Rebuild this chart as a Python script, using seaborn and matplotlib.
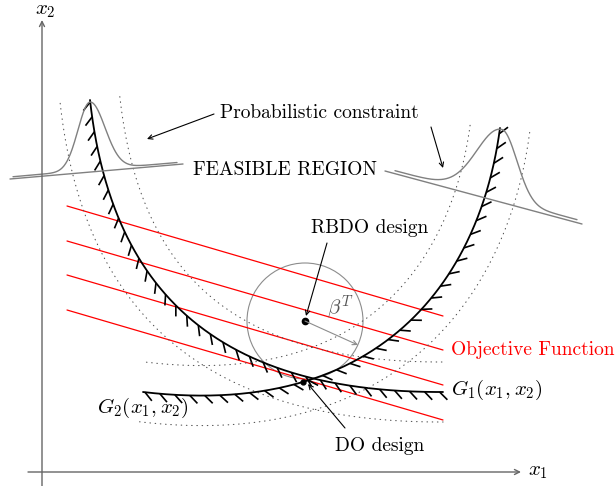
import numpy as np
import matplotlib
matplotlib.use("Agg")
import matplotlib.pyplot as plt
from matplotlib.patches import Circle
from matplotlib.collections import LineCollection
import seaborn as sns

W, H = 616, 486

# limit state curves as cubic Bezier control points (picture coords, y down)
G1_CTRL = [[90, 100], [110, 280], [205, 393], [443, 392]]
G2_CTRL = [[143, 392], [380, 420], [480, 280], [500, 128]]
BAND = 30            # distance of the dotted curves
HATCH_STEP = 15
HATCH_LEN = 11

# objective function contours
OBJ_X = [67, 443]
OBJ_Y0 = [206, 241, 275, 310]
OBJ_Y1 = [316, 350, 385, 420]

# pdf sketches on tilted baselines
LEFT_BASE = [10, 179, 183, 164]
LEFT_SPAN = [13, 177]
LEFT_PEAK, LEFT_HEIGHT, LEFT_SIG = 90, 68, [12, 15]
RIGHT_BASE = [385, 171, 582, 224]
RIGHT_SPAN = [395, 577]
RIGHT_PEAK, RIGHT_HEIGHT, RIGHT_SIG = 502, 70, [25, 15]

RBDO_PT = [305, 321]
DO_PT = [303, 382]
RADIUS = 58
BETA_END = [358, 345]


def bezier(ctrl, n=300):
    p = np.array(ctrl, dtype=float)
    t = np.linspace(0, 1, n)[:, None]
    return ((1 - t) ** 3) * p[0] + 3 * (1 - t) ** 2 * t * p[1] + 3 * (1 - t) * t ** 2 * p[2] + t ** 3 * p[3]


def tangents(c):
    d = np.gradient(c, axis=0)
    return d / np.linalg.norm(d, axis=1)[:, None]


def hatches(c):
    seg = np.linalg.norm(np.diff(c, axis=0), axis=1)
    s = np.concatenate([[0], np.cumsum(seg)])
    tg = tangents(c)
    pos = np.arange(2, s[-1], HATCH_STEP)
    xs, ys = np.interp(pos, s, c[:, 0]), np.interp(pos, s, c[:, 1])
    tx, ty = np.interp(pos, s, tg[:, 0]), np.interp(pos, s, tg[:, 1])
    a = np.deg2rad(45)
    dx = tx * np.cos(a) - ty * np.sin(a)
    dy = tx * np.sin(a) + ty * np.cos(a)
    return [[(x, y), (x + HATCH_LEN * u, y + HATCH_LEN * v)] for x, y, u, v in zip(xs, ys, dx, dy)]


def pdf_curve(base, span, peak, height, sig, lift):
    x = np.linspace(span[0], span[1], 300)
    line = base[1] + (base[3] - base[1]) * (x - base[0]) / (base[2] - base[0])
    s = np.where(x < peak, sig[0], sig[1])
    return x, line - lift - height * np.exp(-(x - peak) ** 2 / (2 * s ** 2))


sns.set_theme(style="white")
plt.rcParams["font.family"] = ["cmr10", "DejaVu Serif"]
plt.rcParams["mathtext.fontset"] = "cm"
plt.rcParams["axes.unicode_minus"] = False
plt.rcParams["text.color"] = "black"

fig = plt.figure(figsize=(W / 100, H / 100), dpi=100)
ax = fig.add_axes([0, 0, 1, 1])

line_kw = dict(sort=False, estimator=None, ax=ax, legend=False)

# objective contours
for y0, y1 in zip(OBJ_Y0, OBJ_Y1):
    sns.lineplot(x=OBJ_X, y=[y0, y1], color="red", lw=0.9, **line_kw)

# limit states, their bands and hatching
for ctrl in (G1_CTRL, G2_CTRL):
    c = bezier(ctrl)
    tg = tangents(c)
    nrm = np.column_stack([-tg[:, 1], tg[:, 0]])
    for side in (1, -1):
        o = c + side * BAND * nrm
        sns.lineplot(x=o[:, 0], y=o[:, 1], color="#555555", lw=0.8,
                     linestyle=(0, (0.5, 4.2)), dash_capstyle="round", **line_kw)
    sns.lineplot(x=c[:, 0], y=c[:, 1], color="black", lw=1.3, **line_kw)
    ax.add_collection(LineCollection(hatches(c), colors="black", linewidths=1.2))

# pdf sketches
for base, span, peak, h, sig, lift in [(LEFT_BASE, LEFT_SPAN, LEFT_PEAK, LEFT_HEIGHT, LEFT_SIG, 2),
                                       (RIGHT_BASE, RIGHT_SPAN, RIGHT_PEAK, RIGHT_HEIGHT, RIGHT_SIG, 3)]:
    sns.lineplot(x=[base[0], base[2]], y=[base[1], base[3]], color="#808080", lw=1.0, **line_kw)
    px, py = pdf_curve(base, span, peak, h, sig, lift)
    sns.lineplot(x=px, y=py, color="#808080", lw=1.0, **line_kw)

# reliability circle
ax.add_patch(Circle(RBDO_PT, RADIUS, fill=False, ec="#8c8c8c", lw=0.8))
ax.annotate("", xy=BETA_END, xytext=RBDO_PT,
            arrowprops=dict(arrowstyle="->", color="#8c8c8c", lw=0.8, shrinkA=0, shrinkB=0, mutation_scale=8))
ax.plot(*RBDO_PT, "o", color="black", ms=4.5)
ax.plot(*DO_PT, "o", color="black", ms=3.5)

# coordinate axes
ax_kw = dict(arrowstyle="->", color="#666666", lw=1.0, shrinkA=0, shrinkB=0, mutation_scale=9)
ax.annotate("", xy=(42, 20), xytext=(42, 486), arrowprops=ax_kw)
ax.annotate("", xy=(521, 472), xytext=(28, 472), arrowprops=ax_kw)

arr = dict(arrowstyle="->", color="black", lw=0.8, shrinkA=0, shrinkB=0, mutation_scale=8)
ax.annotate("", xy=(147, 139), xytext=(214, 114), arrowprops=arr)
ax.annotate("", xy=(443, 168), xytext=(431, 127), arrowprops=arr)
ax.annotate("", xy=(306, 316), xytext=(327, 243), arrowprops=arr)
ax.annotate("", xy=(308, 384), xytext=(345, 428), arrowprops=arr)

fs, ms = 14, 15
ax.text(220, 113, "Probabilistic constraint", fontsize=fs, va="center", ha="left")
ax.text(193, 170, "FEASIBLE REGION", fontsize=fs, va="center", ha="left")
ax.text(311, 228, "RBDO design", fontsize=fs, va="center", ha="left")
ax.text(451, 350, "Objective Function", fontsize=fs, va="center", ha="left", color="red")
ax.text(451, 390, r"$G_1(x_1,x_2)$", fontsize=ms, va="center", ha="left")
ax.text(97, 408, r"$G_2(x_1,x_2)$", fontsize=ms, va="center", ha="left")
ax.text(335, 446, "DO design", fontsize=fs, va="center", ha="left")
ax.text(327, 307, r"$\beta^T$", fontsize=ms, va="center", ha="left", color="#555555")
ax.text(528, 472, r"$x_1$", fontsize=ms, va="center", ha="left")
ax.text(35, 11, r"$x_2$", fontsize=ms, va="center", ha="left")

ax.set_xlim(0, W)
ax.set_ylim(H, 0)
ax.axis("off")
fig.savefig("out.png", dpi=100)
